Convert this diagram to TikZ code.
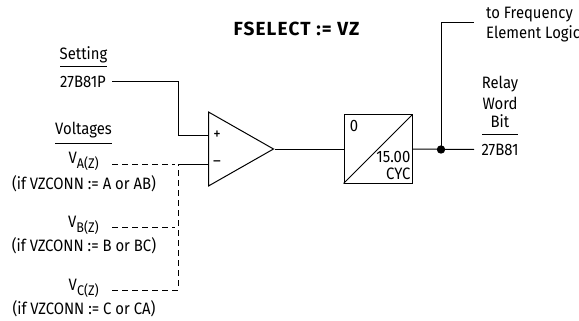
\documentclass[tikz,border=0pt]{standalone}
\usepackage{fontspec}
\setmainfont[FakeStretch=0.9]{Fira Sans}
\newfontfamily\titlefont[FakeStretch=1.0,LetterSpace=6]{Fira Sans}
\usetikzlibrary{shapes.geometric}
\newcommand{\subtext}[1]{\raisebox{-5pt}{\fontsize{14}{14}\selectfont #1}}
\tikzset{
	wire/.style={line width=1pt},
	dashwire/.style={line width=0.9pt, dash pattern=on 6pt off 4pt},
	txt/.style={inner sep=0pt, font=\fontsize{16.5}{16.5}\selectfont},
	rule/.style={line width=0.8pt}
}
\begin{document}
\begin{tikzpicture}[x=1pt, y=-1pt]
	\useasboundingbox (0,0) rectangle (579,321);

	\node (title) [txt, font=\fontsize{19}{19}\selectfont\titlefont\bfseries] at (296.5,29) {FSELECT := VZ};

	% left side texts
	\node (setting) [txt] at (83.5,55) {Setting};
	\node (settingval) [txt] at (83,82) {27B81P};
	\node (voltages) [txt] at (83.5,130) {Voltages};
	\node (va) [txt, anchor=base east] at (99,164) {V\subtext{A(Z)}};
	\node (vatext) [txt] at (84,184) {(if VZCONN := A or AB)};
	\node (vb) [txt, anchor=base east] at (99,227) {V\subtext{B(Z)}};
	\node (vbtext) [txt] at (84,246) {(if VZCONN := B or BC)};
	\node (vc) [txt, anchor=base east] at (99,290) {V\subtext{C(Z)}};
	\node (vctext) [txt] at (84,309) {(if VZCONN := C or CA)};

	\draw[rule] (60,66.5) -- (107,66.5);
	\draw[rule] (55,143) -- (112,143);

	% comparator and timer
	\node (comparator) [draw, wire, isosceles triangle, isosceles triangle stretches, shape border rotate=0, minimum width=74pt, minimum height=65pt, inner sep=0pt, anchor=lower side] at (208,149) {};
	\node (plus) [txt] at (217,135) {+};
	\node (minus) [txt] at (217,164) {--};
	\node (timer) [draw, wire, rectangle, minimum size=68pt, inner sep=0pt] at (378,149) {};
	\draw[wire] (timer.south west) -- (timer.north east);
	\node (pickup) [txt] at (354,126) {0};
	\node (delay) [txt, anchor=east] at (410.5,157) {15.00};
	\node (cyc) [txt, anchor=east] at (410.5,174) {CYC};

	% right side texts
	\node (freq) [txt, anchor=west] at (486,15) {to Frequency};
	\node (logic) [txt, anchor=west] at (486,34) {Element Logic};
	\node (relay) [txt] at (500,84) {Relay};
	\node (word) [txt] at (500,103) {Word};
	\node (bit) [txt] at (500,121) {Bit};
	\node (bitval) [txt] at (500,149.5) {27B81};
	\draw[rule] (482,134) -- (518,134);

	% connection points
	\coordinate (setstart) at (112,82);
	\coordinate (plusin) at (208,135);
	\coordinate (minusin) at (208,164.5);
	\coordinate (vcorner) at (178,164.5);
	\coordinate (vastart) at (112,164.5);
	\coordinate (vbstart) at (112,227);
	\coordinate (vcstart) at (112,290);
	\coordinate (vcend) at (178,290);
	\coordinate (vbend) at (175,227);
	\coordinate (vaend) at (175,164.5);
	\coordinate (dot) at (441,149.5);
	\coordinate (bitend) at (474,149.5);
	\coordinate (freqend) at (474,22.5);

	\draw[wire] (setstart) -| (178,135) -- (plusin);
	\draw[wire] (vcorner) -- (minusin);
	\draw[dashwire] (vastart) -- (vaend);
	\draw[dashwire] (vbstart) -- (vbend);
	\draw[dashwire] (vcstart) -- (vcend) -- (vcorner);
	\draw[wire] (comparator.apex) -- (timer.west);
	\draw[wire] (timer.east) -- (bitend);
	\draw[wire] (dot) |- (freqend);
	\fill (dot) circle [radius=4.2pt];
\end{tikzpicture}
\end{document}
